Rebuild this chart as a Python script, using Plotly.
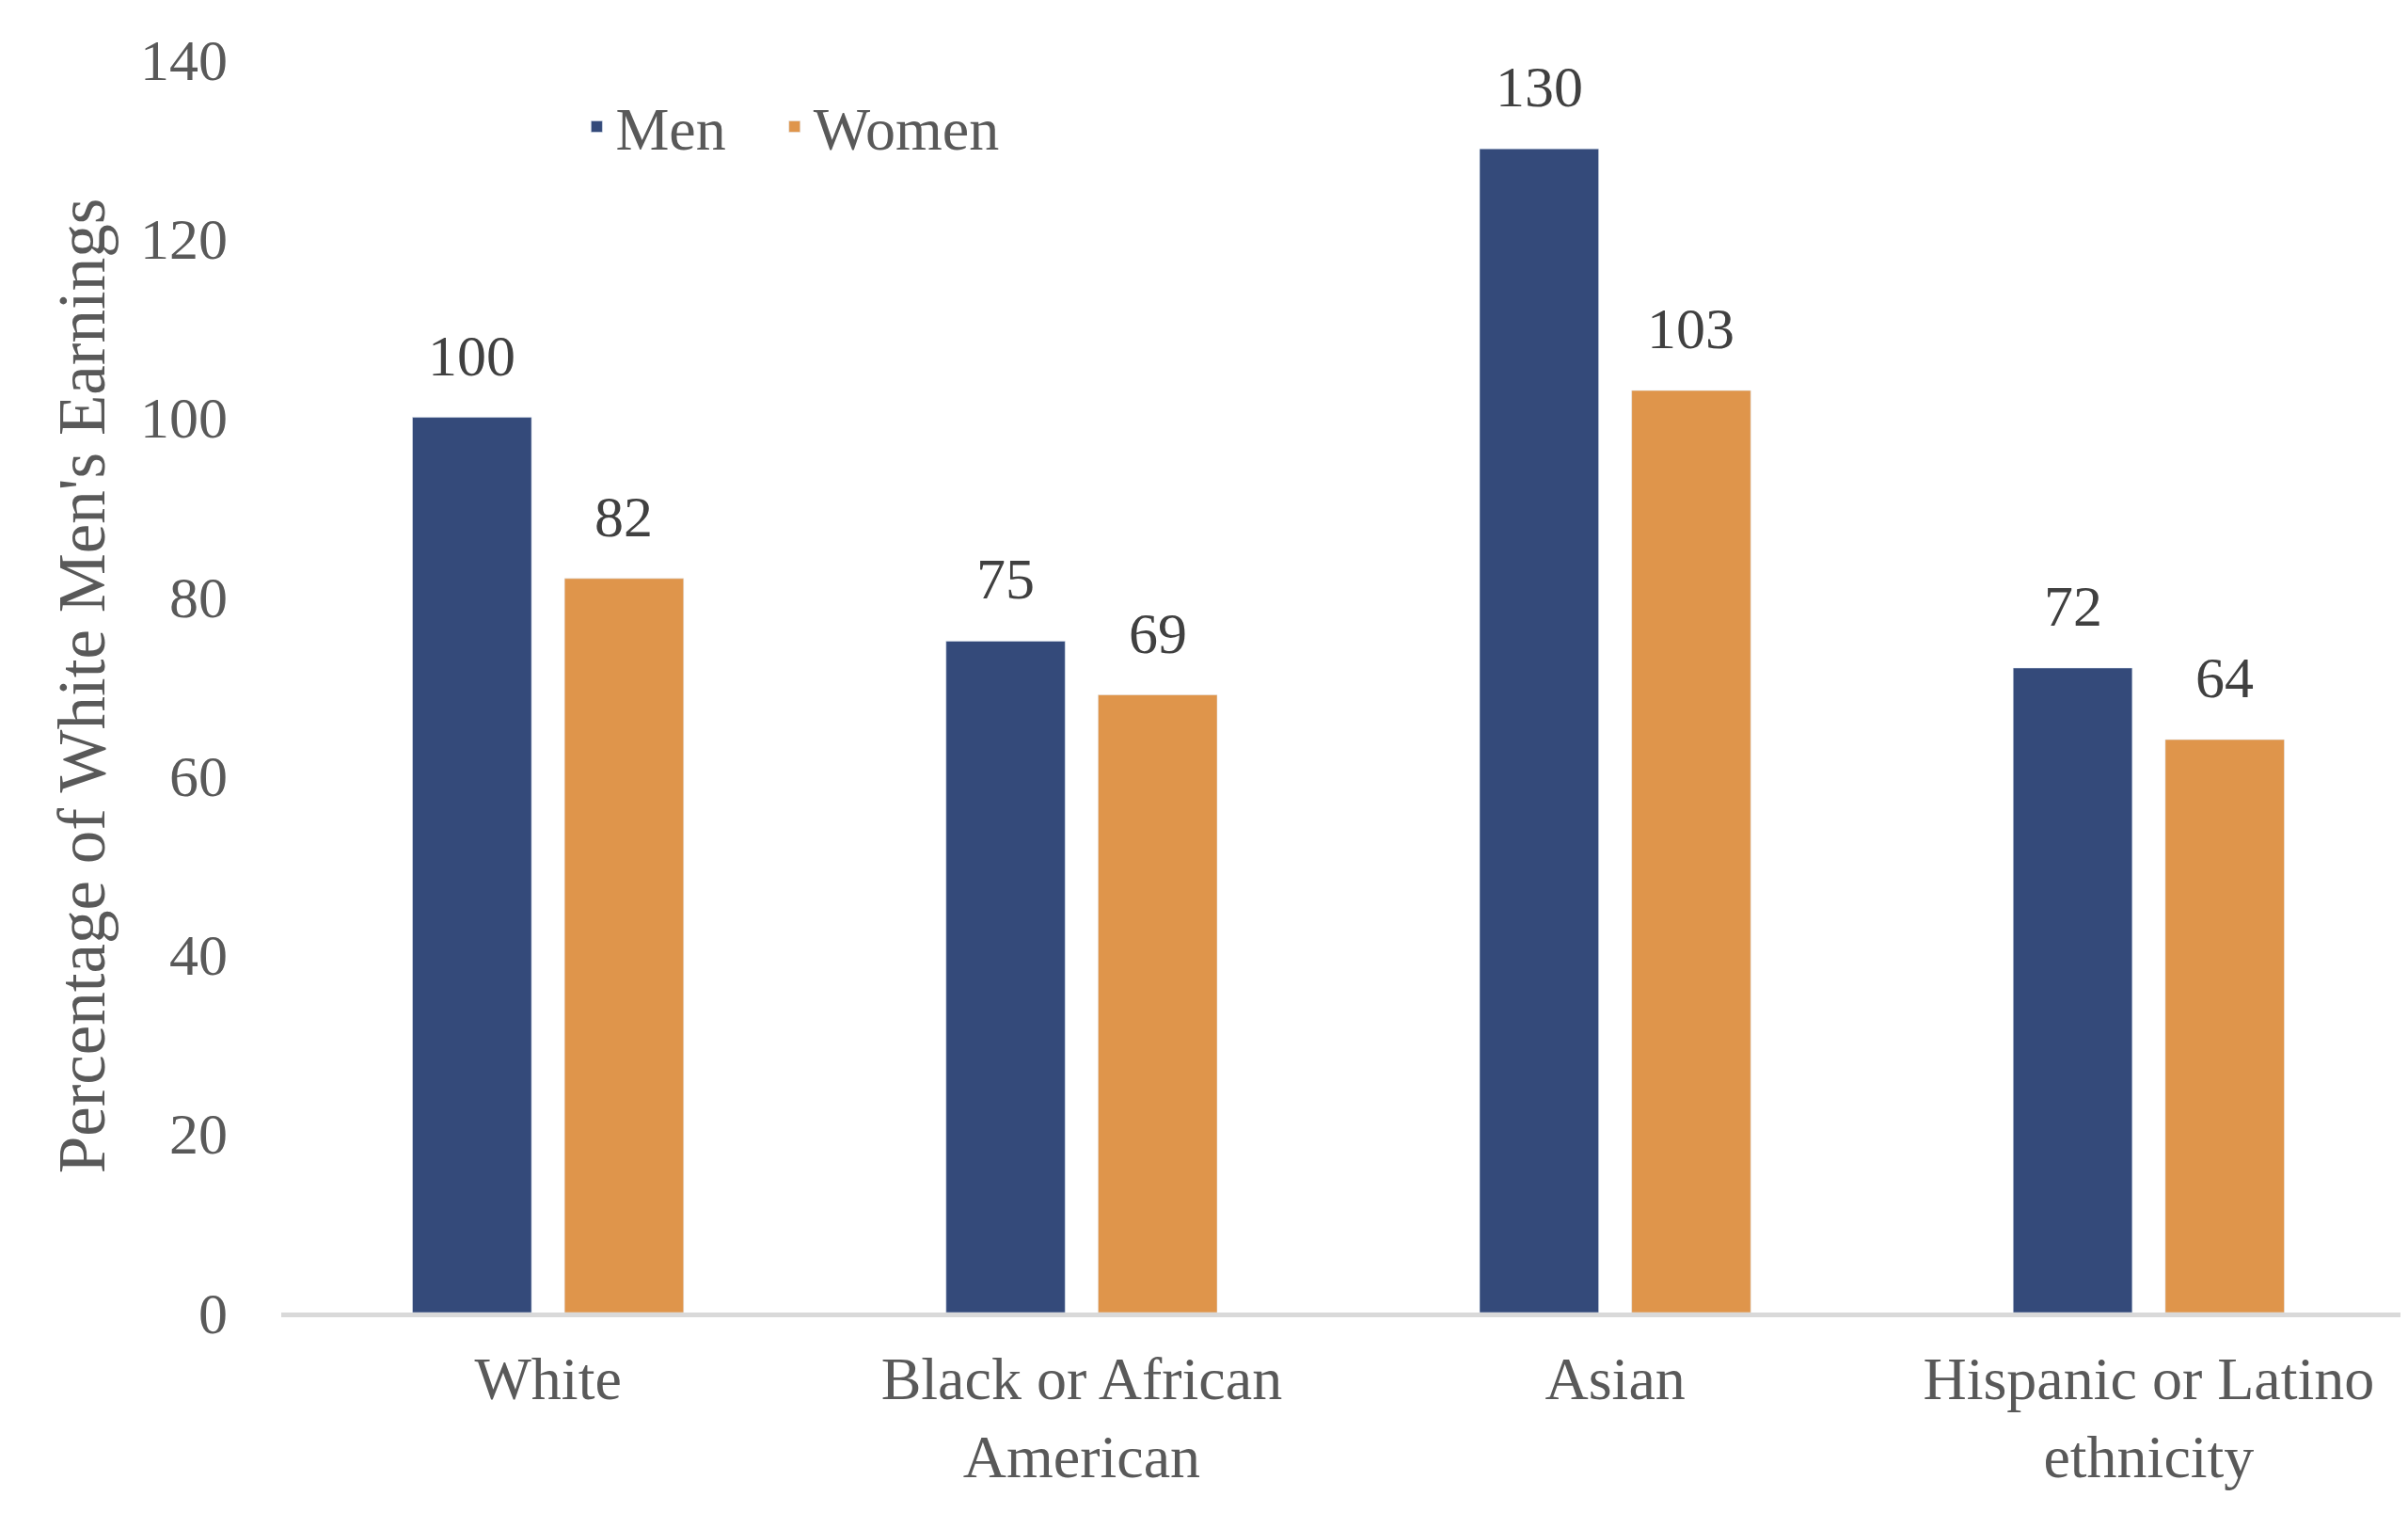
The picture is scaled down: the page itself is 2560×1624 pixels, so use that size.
import plotly.graph_objects as go

# Earnings relative to white men
categories = ["White", "Black or African<br>American", "Asian", "Hispanic or Latino<br>ethnicity"]
men = [100, 75, 130, 72]
women = [82, 69, 103, 64]
y_ticks = [0, 20, 40, 60, 80, 100, 120, 140]

NAVY = "#344A7A"
ORANGE = "#DF954B"
TICK_GREY = "#595959"
LABEL_GREY = "#404040"
FONT = "Liberation Serif, Times New Roman, serif"

W, H = 2560, 1624
MARGIN = {"l": 291, "r": 0, "t": 55, "b": 237}
BARGAP = 0.43
BARGROUPGAP = 0.217

fig = go.Figure()
# non-breaking spaces widen the gap between the two legend entries
fig.add_trace(go.Bar(x=categories, y=men, name="Men\u00a0\u00a0\u00a0", marker={"color": NAVY}))
fig.add_trace(go.Bar(x=categories, y=women, name="Women", marker={"color": ORANGE}))

# value labels above each bar, shifted sideways onto their bar in the group
cat_px = (W - MARGIN["l"] - MARGIN["r"]) / len(categories)
half_slot = cat_px * (1 - BARGAP) / 4
for series, shift in ((men, -half_slot), (women, half_slot)):
    for cat, val in zip(categories, series):
        fig.add_annotation(
            x=cat, y=val, text=str(val), showarrow=False,
            xshift=shift, yshift=30, yanchor="bottom",
            font={"family": FONT, "size": 62, "color": LABEL_GREY},
        )

fig.update_layout(
    width=W,
    height=H,
    margin=MARGIN,
    barmode="group",
    bargap=BARGAP,
    bargroupgap=BARGROUPGAP,
    plot_bgcolor="white",
    paper_bgcolor="white",
    font={"family": FONT, "size": 62, "color": TICK_GREY},
    legend={
        "orientation": "h",
        "x": 0.139,
        "y": 0.946,
        "xanchor": "left",
        "yanchor": "middle",
        "font": {"size": 64, "color": TICK_GREY},
        "bgcolor": "rgba(0,0,0,0)",
    },
)
fig.update_xaxes(
    showgrid=False,
    showline=True,
    linecolor="#D9D9D9",
    linewidth=5,
    ticks="",
    ticklabelstandoff=10,
    tickfont={"size": 64, "color": TICK_GREY},
    automargin=False,
)
fig.update_yaxes(
    range=[0, 140],
    tickvals=y_ticks,
    showgrid=False,
    zeroline=False,
    showline=False,
    ticklabelstandoff=56,
    tickfont={"size": 62, "color": TICK_GREY},
    title={"text": "Percentage of White Men's Earnings", "font": {"size": 71, "color": TICK_GREY}, "standoff": 14},
    automargin=False,
)

fig.write_html("out.html")
